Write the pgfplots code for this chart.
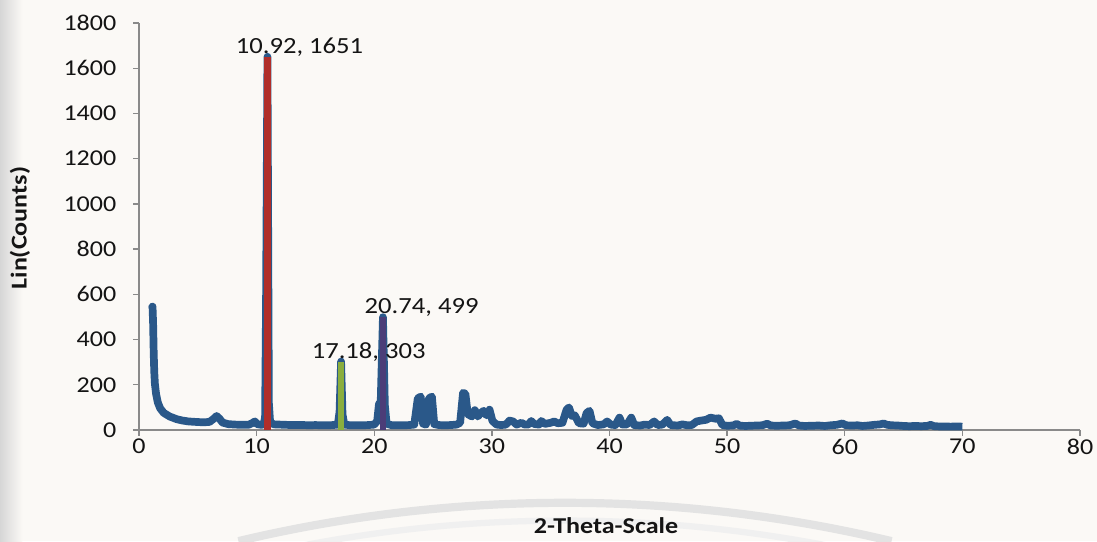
\documentclass[border=0pt]{standalone}
\usepackage{fontspec}
\setmainfont{Carlito}[FakeStretch=1.15]
\usepackage{pgfplots}
\usepackage{pgfplotstable}
\pgfplotsset{compat=1.18}

\definecolor{paper}{HTML}{FBF9F6}
\definecolor{axisgray}{HTML}{8A8A8A}
\definecolor{scanblue}{HTML}{2A5889}
\definecolor{peakred}{HTML}{B02E2A}
\definecolor{peakgreen}{HTML}{8AAE3E}
\definecolor{peakpurple}{HTML}{4B3D78}

% XRD pattern, Lin(Counts) against 2-theta
\pgfplotstableread{
x y
1.10 538
1.15 546
1.20 470
1.25 340
1.30 255
1.35 205
1.45 160
1.60 122
1.80 96
2.10 76
2.60 60
3.20 48
3.70 42
4.20 38
4.80 36
5.50 34
6.00 36
6.35 50
6.60 62
6.85 50
7.10 33
7.60 26
8.20 24
8.80 23
9.30 23
9.60 30
9.85 38
10.05 26
10.40 23
10.62 26
10.72 60
10.80 545
10.92 1651
11.04 120
11.15 32
11.50 25
12.00 24
12.50 23
13.00 22
13.50 22
14.00 22
14.50 21
15.00 22
15.50 21
16.00 21
16.50 22
16.90 24
17.05 80
17.18 303
17.30 70
17.45 24
18.00 21
18.50 21
19.00 21
19.50 22
20.00 24
20.25 40
20.40 115
20.55 125
20.74 499
20.90 110
21.05 28
21.50 21
22.00 21
22.50 21
23.00 22
23.40 24
23.70 140
23.95 148
24.15 28
24.40 24
24.65 140
24.90 148
25.10 26
25.50 22
26.00 21
26.50 22
27.00 24
27.30 32
27.55 165
27.75 160
27.95 70
28.30 60
28.55 88
28.80 60
29.05 75
29.30 85
29.55 65
29.80 90
30.05 40
30.40 24
30.80 22
31.20 24
31.50 42
31.80 38
32.10 24
32.50 32
32.80 24
33.10 24
33.35 40
33.60 27
34.00 24
34.20 40
34.50 27
35.00 32
35.30 38
35.60 30
36.00 32
36.35 90
36.55 100
36.80 62
37.05 65
37.40 30
37.80 28
38.05 75
38.30 85
38.55 30
39.00 22
39.50 25
39.80 38
40.10 24
40.50 22
40.85 55
41.10 24
41.50 25
41.85 55
42.10 22
42.60 20
43.00 24
43.40 22
43.80 38
44.10 22
44.50 24
44.90 45
45.20 22
45.80 20
46.20 25
46.60 21
47.00 22
47.40 38
47.80 42
48.20 45
48.60 55
49.00 50
49.30 52
49.60 22
50.00 19
50.50 20
50.80 27
51.10 19
51.60 18
52.00 19
52.50 20
53.00 21
53.40 28
53.70 20
54.20 19
54.80 20
55.30 21
55.80 29
56.10 20
56.60 18
57.20 19
57.80 20
58.30 18
58.80 21
59.30 23
59.80 29
60.10 21
60.60 20
61.10 21
61.50 18
62.00 20
62.50 23
63.00 25
63.30 29
63.60 23
64.00 21
64.50 20
65.00 18
65.50 17
66.00 18
66.50 17
67.00 18
67.30 23
67.60 17
68.00 16
68.50 16
69.00 15
69.50 16
70.00 15
}\xrddata

\begin{document}
\begin{tikzpicture}
% paper
\fill[paper] (-2.028,-1.619) rectangle (13.977,6.274);
\shade[left color=black!16, right color=paper] (-2.028,-1.619) rectangle (-1.70,6.274);
\draw[black!11, line width=3.4pt] (6.215,-21.62) ++(103.4:20.56) arc[start angle=103.4, end angle=76.6, radius=20.56];
\draw[black!6, line width=2.6pt] (6.215,-21.62) ++(101.5:20.30) arc[start angle=101.5, end angle=78.5, radius=20.30];

\begin{axis}[
  at={(0,0)}, anchor=south west,
  scale only axis, width=13.729cm, height=5.938cm,
  xmin=0, xmax=80, ymin=0, ymax=1800,
  axis lines=left,
  axis line style={draw=axisgray, line width=0.55pt, -},
  xtick={0,10,...,80}, ytick={0,200,...,1800},
  tick align=outside, major tick length=0.087cm,
  tick style={draw=axisgray, line width=0.55pt},
  tick label style={font=\fontsize{9.4}{11}\selectfont, text=black!92},
  xticklabel style={yshift=2.2pt},
  yticklabel style={xshift=-0.12cm},
  /pgf/number format/assume math mode=true,
  /pgf/number format/1000 sep={},
  xlabel={2-Theta-Scale}, ylabel={Lin(Counts)},
  label style={font=\fontsize{9.4}{11}\selectfont\bfseries, text=black!92},
  xlabel style={at={(axis description cs:0.4963,-0.236)}, anchor=center},
  ylabel style={at={(axis description cs:-0.1265,0.496)}, anchor=center},
  clip=false,
]
\addplot[scanblue, line width=3.2pt, line join=round] table {\xrddata};
\addplot[peakred, line width=3.0pt] coordinates {(10.92,0) (10.92,1651)};
\addplot[peakgreen, line width=2.5pt] coordinates {(17.18,0) (17.18,303)};
\addplot[peakpurple, line width=2.8pt] coordinates {(20.74,0) (20.74,499)};
\node[anchor=base west, inner sep=0, font=\fontsize{9.6}{12}\selectfont, text=black!92] at (axis cs:8.2,1667) {10.92, 1651};
\node[anchor=base west, inner sep=0, font=\fontsize{9.6}{12}\selectfont, text=black!92] at (axis cs:14.65,318) {17.18, 303};
\node[anchor=base west, inner sep=0, font=\fontsize{9.6}{12}\selectfont, text=black!92] at (axis cs:19.15,517) {20.74, 499};
\end{axis}
\pgfresetboundingbox
\path (-2.028,-1.619) rectangle (13.977,6.274);
\end{tikzpicture}
\end{document}
